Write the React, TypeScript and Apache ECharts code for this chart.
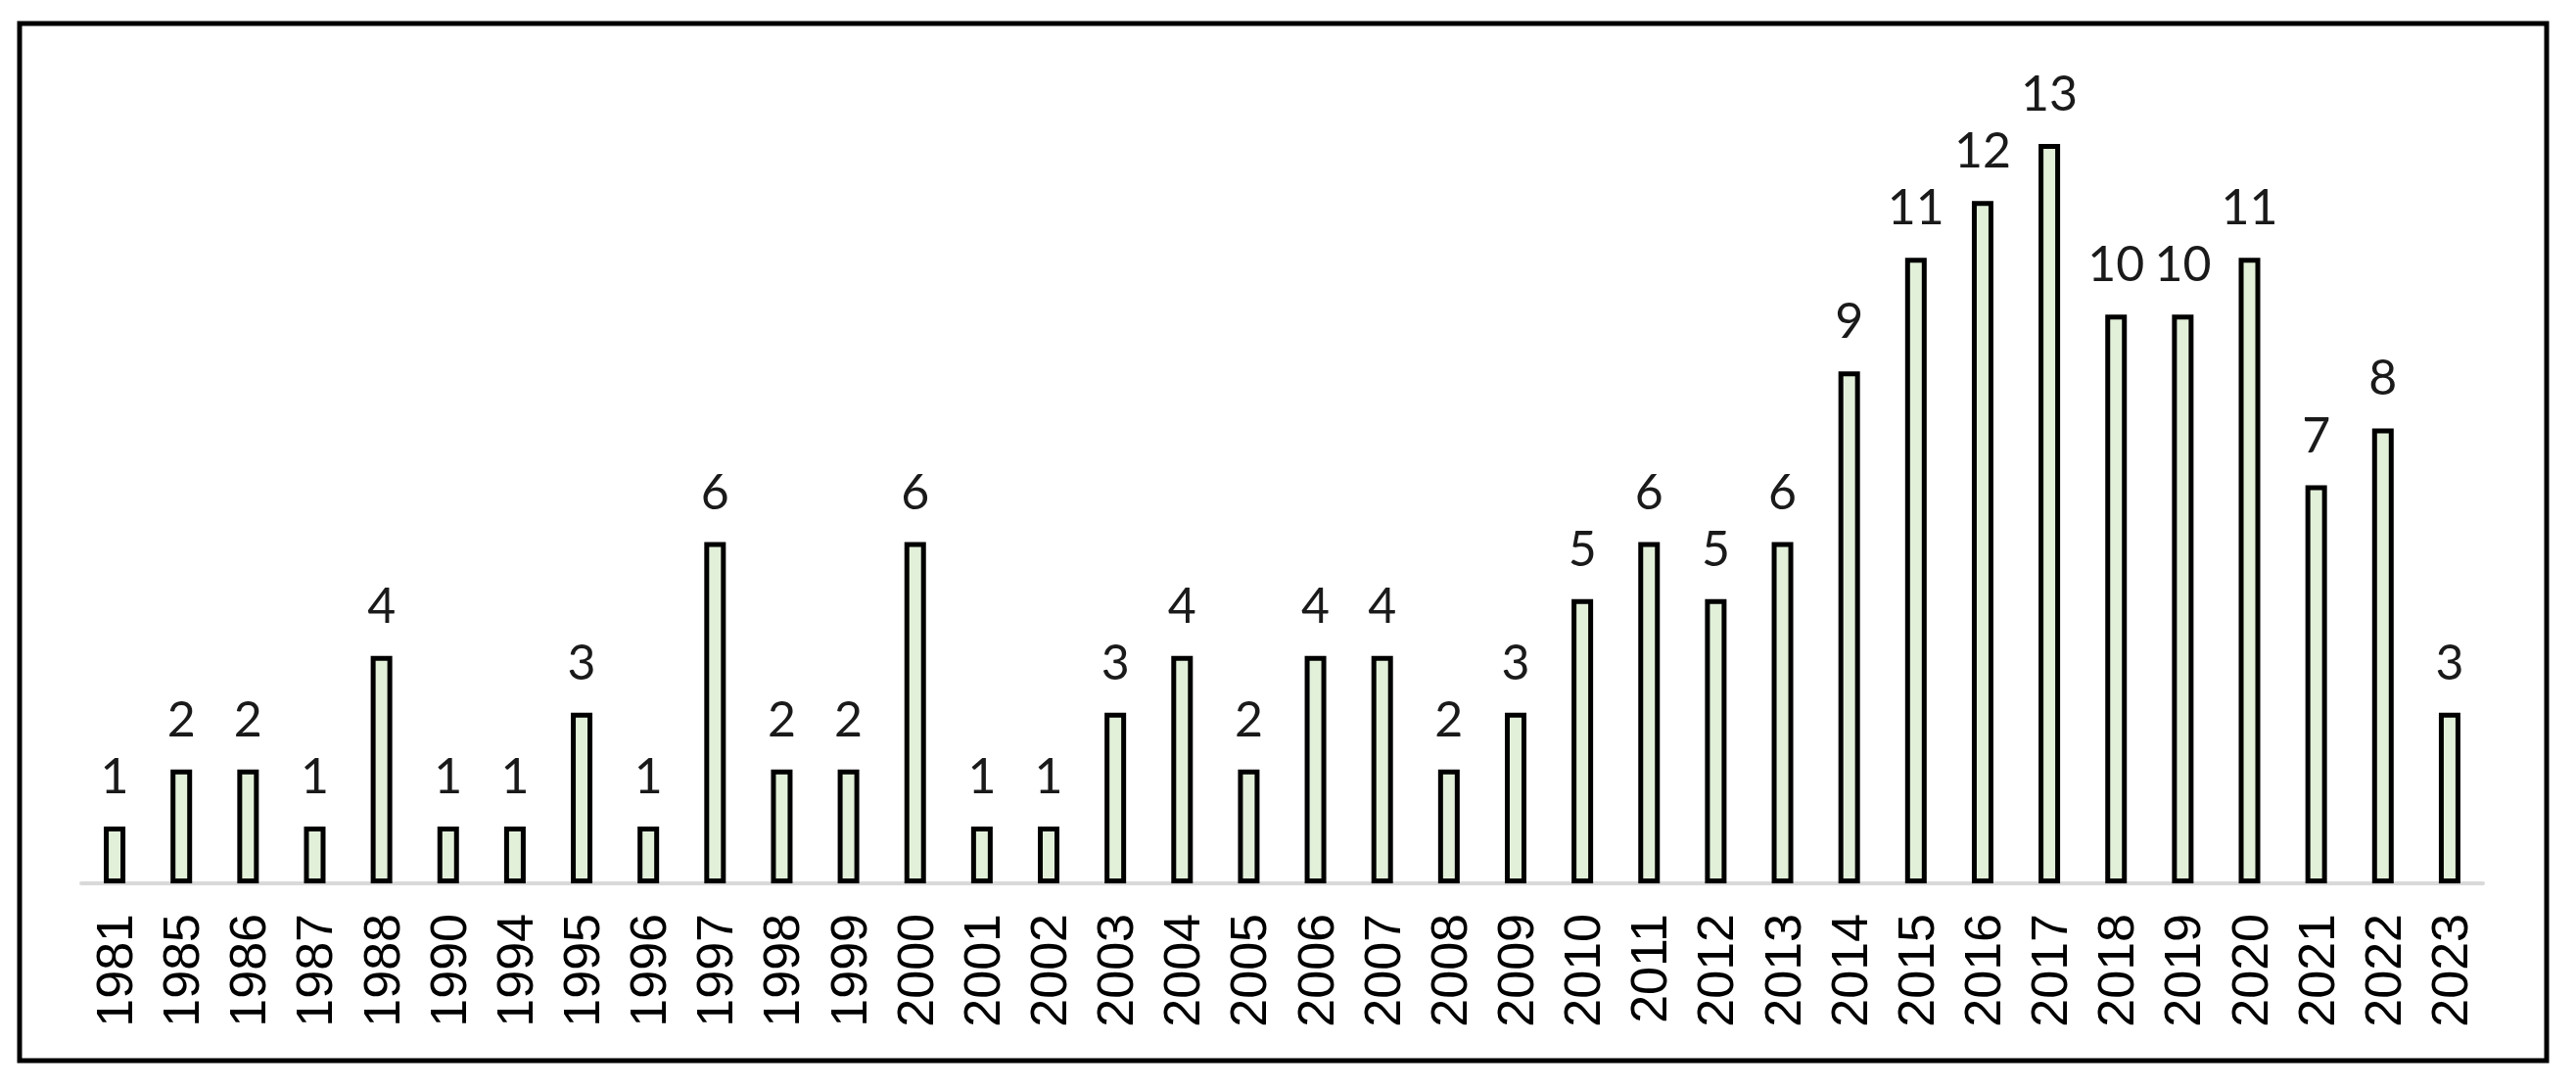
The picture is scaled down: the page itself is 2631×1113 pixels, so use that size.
import React, { useEffect, useRef } from "react";
import * as echarts from "echarts";

const years = [
  "1981", "1985", "1986", "1987", "1988", "1990", "1994", "1995", "1996", "1997",
  "1998", "1999", "2000", "2001", "2002", "2003", "2004", "2005", "2006", "2007",
  "2008", "2009", "2010", "2011", "2012", "2013", "2014", "2015", "2016", "2017",
  "2018", "2019", "2020", "2021", "2022", "2023",
];
const counts = [
  1, 2, 2, 1, 4, 1, 1, 3, 1, 6,
  2, 2, 6, 1, 1, 3, 4, 2, 4, 4,
  2, 3, 5, 6, 5, 6, 9, 11, 12, 13,
  10, 10, 11, 7, 8, 3,
];

export default function App() {
  const ref = useRef<HTMLDivElement>(null);
  useEffect(() => {
    if (!ref.current) return;
    const chart = echarts.init(ref.current, undefined, { renderer: "svg" });
    chart.setOption({
      animation: false,
      backgroundColor: "#ffffff",
      grid: { left: 83, right: 95, top: 89, bottom: 211, containLabel: false },
      xAxis: {
        type: "category",
        data: years,
        boundaryGap: true,
        axisLine: { show: true, lineStyle: { color: "#d9d9d9", width: 4 } },
        axisTick: { show: false },
        axisLabel: {
          rotate: 90,
          margin: 31,
          interval: 0,
          color: "#000000",
          fontFamily: "Liberation Sans",
          fontSize: 52,
        },
      },
      yAxis: {
        type: "value",
        min: 0,
        max: 14,
        show: false,
        splitLine: { show: false },
      },
      series: [
        {
          type: "bar",
          data: counts,
          barWidth: 22,
          itemStyle: { color: "#E2F0D9", borderColor: "#000000", borderWidth: 5 },
          label: {
            show: true,
            position: "top",
            distance: 28,
            color: "#1a1a1a",
            fontFamily: "Lato",
            fontSize: 50,
          },
        },
      ],
      graphic: [
        {
          type: "rect",
          shape: { x: 20, y: 24, width: 2581, height: 1059 },
          style: { fill: "none", stroke: "#000000", lineWidth: 5 },
          silent: true,
        },
      ],
    });
    return () => chart.dispose();
  }, []);
  return (
    <div
      ref={ref}
      style={{ position: "fixed", left: 0, top: 0, width: 2631, height: 1113 }}
    />
  );
}
